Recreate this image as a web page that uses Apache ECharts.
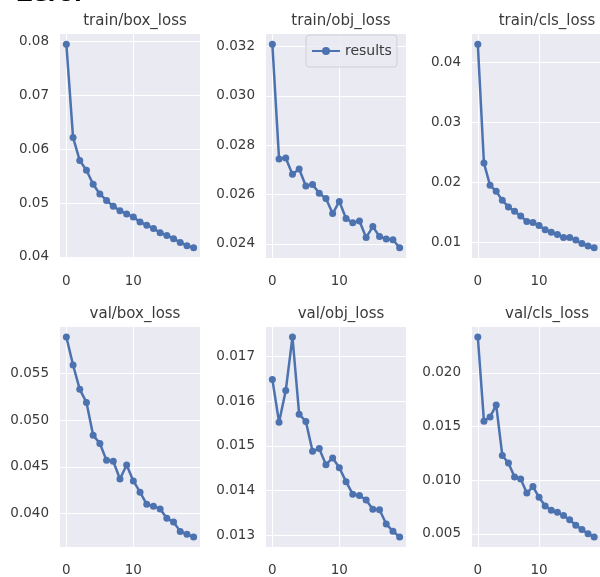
<!DOCTYPE html>
<html>
<head>
<meta charset="utf-8">
<script src="https://cdn.jsdelivr.net/npm/echarts@6/dist/echarts.min.js"></script>
<style>
  html, body { margin: 0; padding: 0; background: #fff; }
  #chart { width: 600px; height: 577px; }
</style>
</head>
<body>
<div id="chart"></div>
<script>
// panel titles
var titles = ['train/box_loss', 'train/obj_loss', 'train/cls_loss', 'val/box_loss', 'val/obj_loss', 'val/cls_loss']

// values per epoch (0..19)
var trainBox = [0.0795, 0.0622, 0.0579, 0.0561, 0.0535, 0.0517, 0.0505, 0.0494, 0.0486, 0.0480,
  0.0474, 0.0465, 0.0459, 0.0453, 0.0445, 0.0440, 0.0434, 0.0427, 0.0421, 0.0417]
var trainObj = [0.0321, 0.02744, 0.02748, 0.02682, 0.02704, 0.02635, 0.02641, 0.02605, 0.02584, 0.02523,
  0.02572, 0.02503, 0.02486, 0.02493, 0.02426, 0.0247, 0.0243, 0.0242, 0.02417, 0.02384]
var trainCls = [0.0430, 0.0232, 0.0195, 0.0185, 0.0170, 0.0159, 0.0152, 0.0144, 0.0135, 0.0133,
  0.0128, 0.0121, 0.0117, 0.0113, 0.0108, 0.0108, 0.0104, 0.0098, 0.0094, 0.0091]
var valBox = [0.0589, 0.0559, 0.0533, 0.0519, 0.0484, 0.0475, 0.0457, 0.0456, 0.0437, 0.0452,
  0.0435, 0.0423, 0.0410, 0.0408, 0.0405, 0.0395, 0.0391, 0.0381, 0.0378, 0.0375]
var valObj = [0.01649, 0.01553, 0.01624, 0.01744, 0.01571, 0.01555, 0.01488, 0.01494, 0.01458, 0.01473,
  0.01451, 0.0142, 0.01392, 0.01389, 0.01379, 0.01358, 0.01357, 0.01325, 0.01309, 0.01296]
var valCls = [0.02335, 0.0155, 0.0159, 0.0170, 0.0123, 0.0116, 0.0103, 0.0101, 0.0088, 0.0094,
  0.0084, 0.0076, 0.0072, 0.0070, 0.0067, 0.0063, 0.0058, 0.0054, 0.0050, 0.0047]

// tick labels
var xTicks = [0, 10]
var yTicks = [
  [0.04, 0.05, 0.06, 0.07, 0.08],
  [0.024, 0.026, 0.028, 0.030, 0.032],
  [0.01, 0.02, 0.03, 0.04],
  [0.040, 0.045, 0.050, 0.055],
  [0.013, 0.014, 0.015, 0.016, 0.017],
  [0.005, 0.010, 0.015, 0.020]
]
var yDecimals = [2, 3, 2, 3, 3, 3]

var seriesData = [trainBox, trainObj, trainCls, valBox, valObj, valCls]

var lefts = [60, 266, 472]
var tops = [34, 327]
var plotW = 140
var plotH = 224
var font = 'DejaVu Sans'
var textColor = '#3a3a3a'
var lineColor = '#4C72B0'

var grid = [], xAxis = [], yAxis = [], series = [], title = []

seriesData.forEach(function(vals, i) {
  var col = i % 3
  var row = Math.floor(i / 3)
  grid.push({
    left: lefts[col], top: tops[row], width: plotW, height: plotH,
    show: true, backgroundColor: '#EAEAF2', borderWidth: 0
  })
  title.push({
    text: titles[i],
    left: lefts[col] + plotW / 2,
    top: tops[row] - 25,
    textAlign: 'center',
    textStyle: { fontFamily: font, fontSize: 15, fontWeight: 'normal', color: textColor }
  })
  xAxis.push({
    type: 'value', gridIndex: i, min: -0.95, max: 19.95,
    axisLine: { show: false },
    axisTick: { show: false, customValues: xTicks },
    axisLabel: { customValues: xTicks, margin: 16, fontFamily: font, fontSize: 13.5, color: textColor },
    splitLine: { show: true, lineStyle: { color: '#fff', width: 1 } }
  })
  // matplotlib style 5% margins
  var lo = Math.min.apply(null, vals)
  var hi = Math.max.apply(null, vals)
  var pad = (hi - lo) * 0.05
  var dec = yDecimals[i]
  yAxis.push({
    type: 'value', gridIndex: i, min: lo - pad, max: hi + pad,
    axisLine: { show: false },
    axisTick: { show: false, customValues: yTicks[i] },
    axisLabel: {
      customValues: yTicks[i], margin: 11, fontFamily: font, fontSize: 13.5, color: textColor,
      formatter: function(v) { return v.toFixed(dec) }
    },
    splitLine: { show: true, lineStyle: { color: '#fff', width: 1 } }
  })
  series.push({
    name: 'results',
    type: 'line',
    xAxisIndex: i, yAxisIndex: i,
    data: vals.map(function(v, k) { return [k, v] }),
    symbol: 'circle', symbolSize: 7,
    lineStyle: { color: lineColor, width: 2.5 },
    itemStyle: { color: lineColor },
    clip: true
  })
})

var chart = echarts.init(document.getElementById('chart'))
chart.setOption({
  animation: false,
  backgroundColor: '#fff',
  title: title,
  grid: grid,
  xAxis: xAxis,
  yAxis: yAxis,
  series: series,
  legend: {
    data: ['results'],
    left: 306, top: 35,
    padding: [9, 5],
    itemWidth: 28, itemHeight: 10, itemGap: 5,
    backgroundColor: 'rgba(234,234,242,0.8)',
    borderColor: '#cfcfd6', borderWidth: 1, borderRadius: 3,
    textStyle: { fontFamily: font, fontSize: 14, color: textColor }
  },
  graphic: [{
    type: 'text', left: 0, top: -16,
    style: { text: '- Zero.', font: 'bold 22px "DejaVu Sans"', fill: '#000' }
  }]
})
</script>
</body>
</html>
